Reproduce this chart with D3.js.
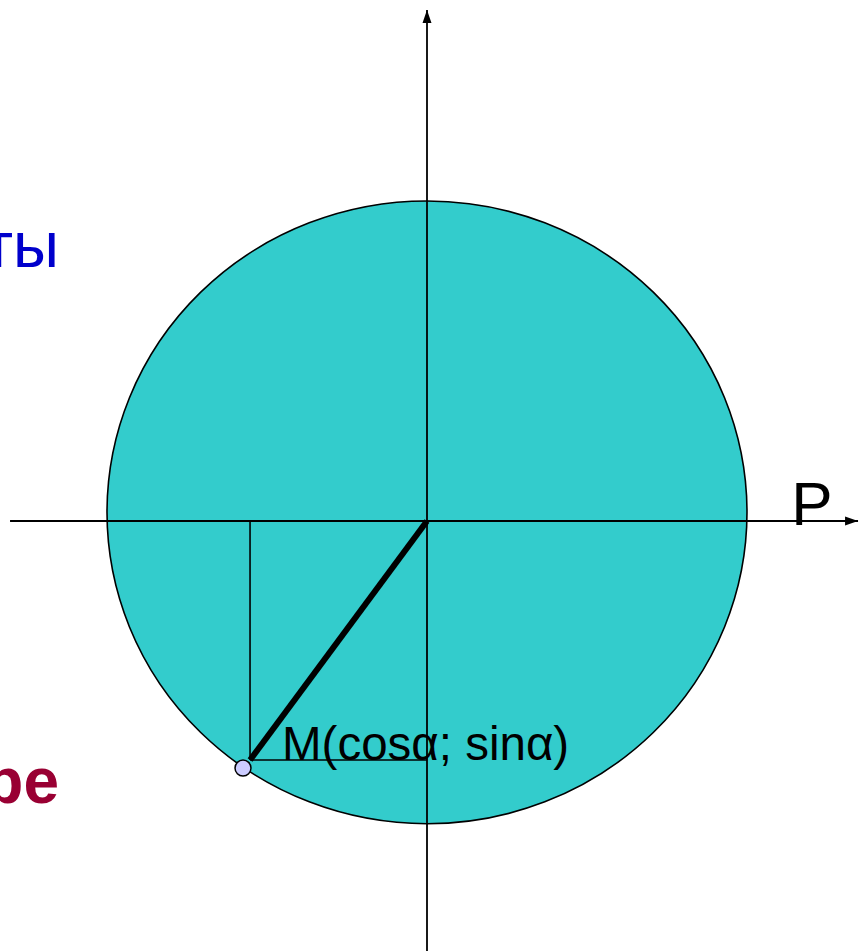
<!DOCTYPE html>
<html>
<head>
<meta charset="utf-8">
<script src="https://cdn.jsdelivr.net/npm/d3@7"></script>
<style>
  html, body { margin: 0; padding: 0; background: #fff; overflow: hidden; }
  svg { display: block; font-family: "Liberation Sans", Arial, sans-serif; }
</style>
</head>
<body>
<div id="chart"></div>
<script>
// unit-circle geometry, in units of the circle radius (origin = axes crossing)
const axisX = [-1.303, 1.347];          // horizontal axis extent
const axisY = [-1.344, 1.597];          // vertical axis extent
const disc = [{ cx: 0, cy: 0.027, rx: 1, ry: 0.973 }];
const radius = [[0, 0], [-0.553, -0.747]];         // O -> M segment
const projV = [[-0.553, 0], [-0.553, -0.747]];     // drop to x axis
const projH = [[-0.553, -0.747], [0, -0.747]];     // drop to y axis
const pointM = [[-0.575, -0.772]];
const labels = [
    { text: "M(cosα; sinα)", x: -0.453, y: -0.747, size: 47.5 },
    { text: "P", x: 1.138, y: -0.013, size: 62 }
];
const sideWords = [
    { text: "ты", y: 0.793, color: "#0000cc", weight: "normal" },
    { text: "ре", y: -0.88, color: "#990033", weight: "bold" }
];

window.onload = () => {
    const w = 859, h = 951, unit = 320;

    const x = d3.scaleLinear().domain([0, 1]).range([427, 427 + unit]);
    const y = d3.scaleLinear().domain([0, 1]).range([521, 521 - unit]);

    const svg = d3.select("#chart")
        .append("svg")
        .attr("width", w)
        .attr("height", h);

    svg.selectAll("ellipse")
        .data(disc)
        .enter()
        .append("ellipse")
        .attr("cx", d => x(d.cx))
        .attr("cy", d => y(d.cy))
        .attr("rx", d => x(d.rx) - x(0))
        .attr("ry", d => y(0) - y(d.ry))
        .attr("fill", "#33cccc")
        .attr("stroke", "#000")
        .attr("stroke-width", 1.6);

    const line = d3.line().x(d => x(d[0])).y(d => y(d[1]));

    // axes
    svg.append("path")
        .attr("d", line([[axisX[0], 0], [axisX[1], 0]]))
        .attr("stroke", "#000").attr("stroke-width", 1.8).attr("fill", "none");
    svg.append("path")
        .attr("d", line([[0, axisY[0]], [0, axisY[1]]]))
        .attr("stroke", "#000").attr("stroke-width", 1.8).attr("fill", "none");

    // arrow heads
    const ax = x(axisX[1]), ay = y(0);
    svg.append("path")
        .attr("d", `M${ax},${ay} L${ax - 13},${ay - 4.5} L${ax - 13},${ay + 4.5} Z`)
        .attr("fill", "#000");
    const tx = x(0), ty = y(axisY[1]);
    svg.append("path")
        .attr("d", `M${tx},${ty} L${tx - 4.5},${ty + 13} L${tx + 4.5},${ty + 13} Z`)
        .attr("fill", "#000");

    // projection lines
    [projV, projH].forEach(p => {
        svg.append("path")
            .attr("d", line(p))
            .attr("stroke", "#000").attr("stroke-width", 1.6).attr("fill", "none");
    });

    svg.selectAll("text.lbl")
        .data(labels)
        .enter()
        .append("text")
        .attr("class", "lbl")
        .attr("x", d => x(d.x))
        .attr("y", d => y(d.y))
        .attr("font-size", d => d.size)
        .attr("fill", "#000")
        .text(d => d.text);

    // radius O -> M
    svg.append("path")
        .attr("d", line(radius))
        .attr("stroke", "#000").attr("stroke-width", 6).attr("fill", "none");

    svg.selectAll("circle.pt")
        .data(pointM)
        .enter()
        .append("circle")
        .attr("class", "pt")
        .attr("cx", d => x(d[0]))
        .attr("cy", d => y(d[1]))
        .attr("r", 8)
        .attr("fill", "#ccccff")
        .attr("stroke", "#000")
        .attr("stroke-width", 1.5);

    svg.selectAll("text.side")
        .data(sideWords)
        .enter()
        .append("text")
        .attr("class", "side")
        .attr("x", 59)
        .attr("y", d => y(d.y))
        .attr("text-anchor", "end")
        .attr("font-size", 64)
        .attr("font-weight", d => d.weight)
        .attr("fill", d => d.color)
        .text(d => d.text);
};
</script>
</body>
</html>
